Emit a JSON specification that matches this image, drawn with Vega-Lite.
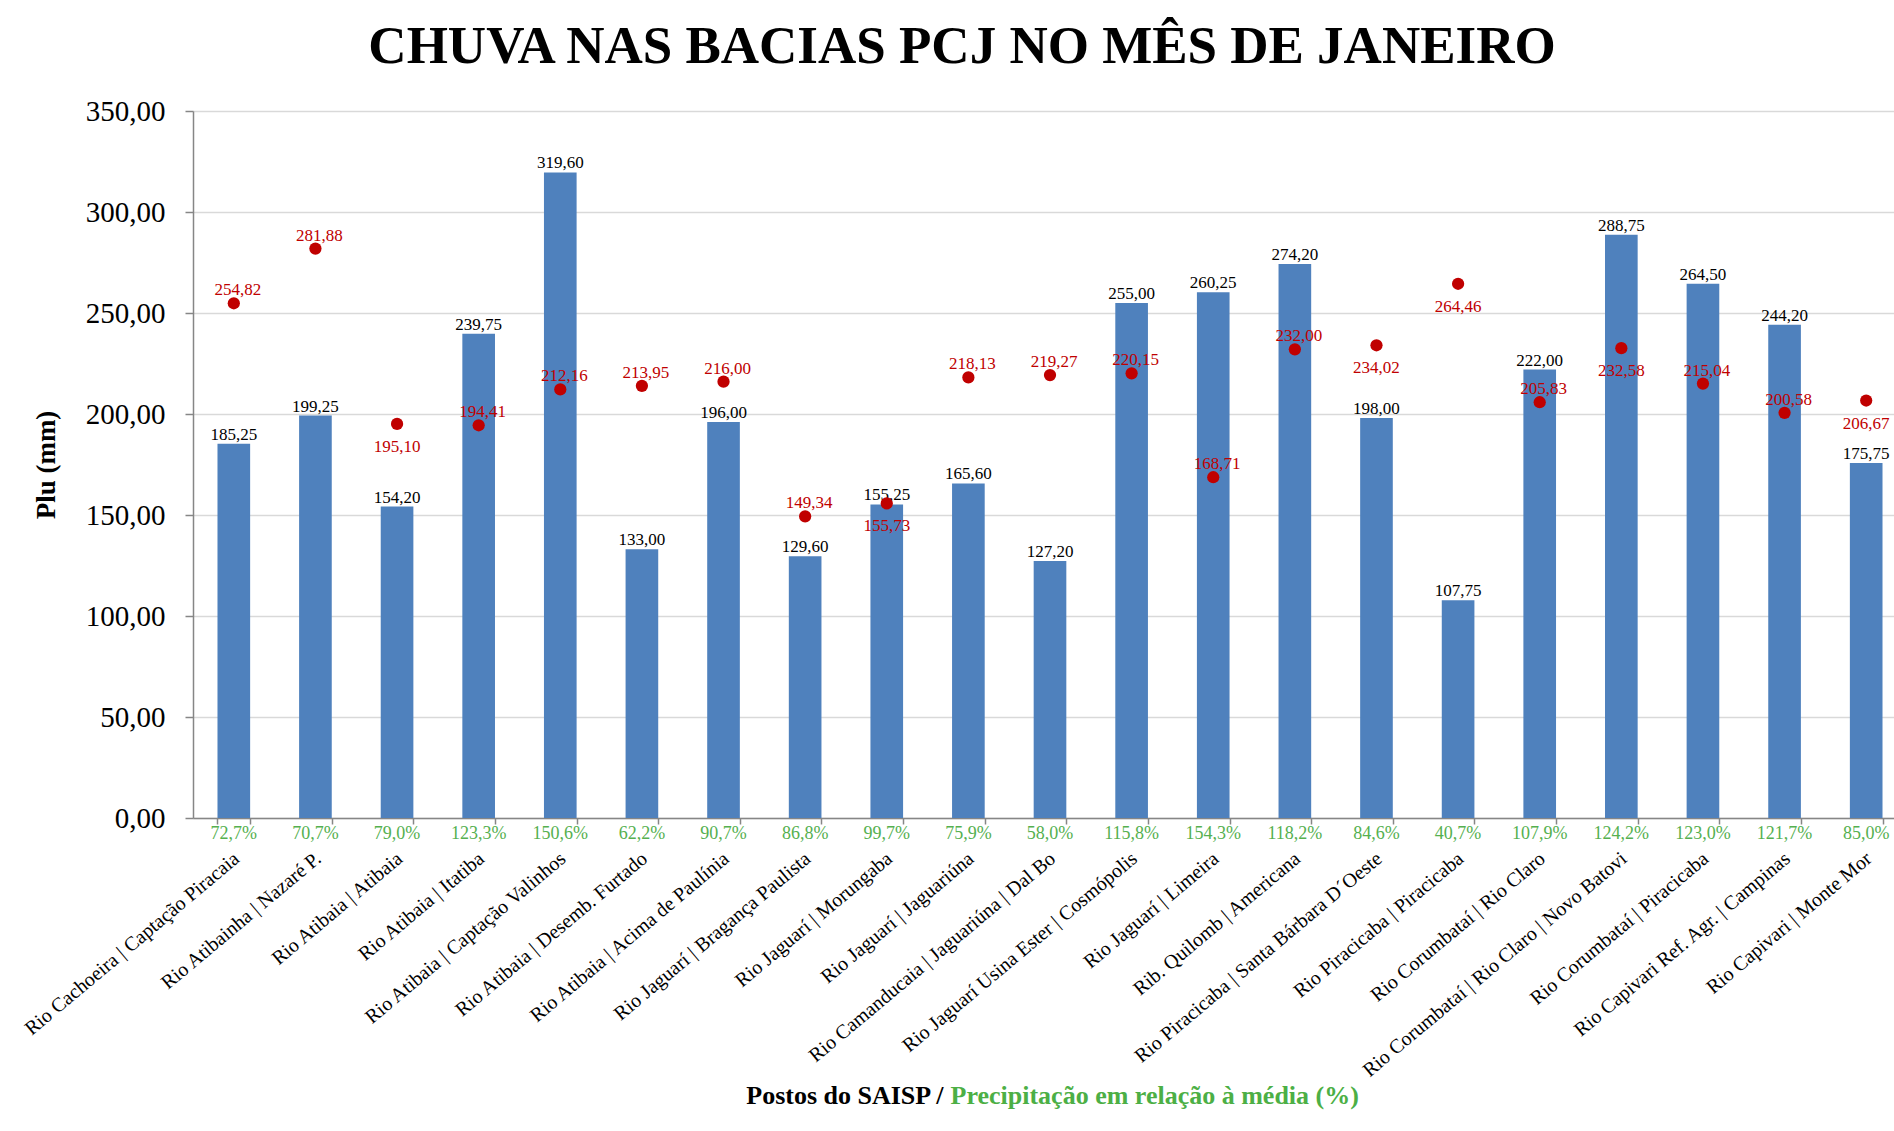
{
  "$schema": "https://vega.github.io/schema/vega-lite/v6.json",
  "autosize": {"type": "none"},
  "width": 1700,
  "height": 707,
  "padding": {"left": 193, "top": 111, "right": 1, "bottom": 313},
  "background": "white",
  "title": {
    "text": "CHUVA NAS BACIAS PCJ NO MÊS DE JANEIRO",
    "font": "Liberation Serif",
    "fontSize": 53,
    "fontWeight": "bold",
    "color": "#000000",
    "anchor": "middle",
    "frame": "group",
    "baseline": "alphabetic",
    "offset": -19,
    "dx": -81
  },
  "data": {
    "values": [
      {"posto": "Rio Cachoeira | Captação Piracaia", "plu": 185.25, "media": 254.82, "pct": 0.727},
      {"posto": "Rio Atibainha | Nazaré P.", "plu": 199.25, "media": 281.88, "pct": 0.707},
      {"posto": "Rio Atibaia | Atibaia", "plu": 154.20, "media": 195.10, "pct": 0.790},
      {"posto": "Rio Atibaia | Itatiba", "plu": 239.75, "media": 194.41, "pct": 1.233},
      {"posto": "Rio Atibaia | Captação Valinhos", "plu": 319.60, "media": 212.16, "pct": 1.506},
      {"posto": "Rio Atibaia | Desemb. Furtado", "plu": 133.00, "media": 213.95, "pct": 0.622},
      {"posto": "Rio Atibaia | Acima de Paulínia", "plu": 196.00, "media": 216.00, "pct": 0.907},
      {"posto": "Rio Jaguarí | Bragança Paulista", "plu": 129.60, "media": 149.34, "pct": 0.868},
      {"posto": "Rio Jaguarí | Morungaba", "plu": 155.25, "media": 155.73, "pct": 0.997},
      {"posto": "Rio Jaguarí | Jaguariúna", "plu": 165.60, "media": 218.13, "pct": 0.759},
      {"posto": "Rio Camanducaia | Jaguariúna | Dal Bo", "plu": 127.20, "media": 219.27, "pct": 0.580},
      {"posto": "Rio Jaguarí Usina Ester | Cosmópolis", "plu": 255.00, "media": 220.15, "pct": 1.158},
      {"posto": "Rio Jaguarí | Limeira", "plu": 260.25, "media": 168.71, "pct": 1.543},
      {"posto": "Rib. Quilomb | Americana", "plu": 274.20, "media": 232.00, "pct": 1.182},
      {"posto": "Rio Piracicaba | Santa Bárbara D´Oeste", "plu": 198.00, "media": 234.02, "pct": 0.846},
      {"posto": "Rio Piracicaba | Piracicaba", "plu": 107.75, "media": 264.46, "pct": 0.407},
      {"posto": "Rio Corumbataí | Rio Claro", "plu": 222.00, "media": 205.83, "pct": 1.079},
      {"posto": "Rio Corumbataí | Rio Claro | Novo Batovi", "plu": 288.75, "media": 232.58, "pct": 1.242},
      {"posto": "Rio Corumbataí | Piracicaba", "plu": 264.50, "media": 215.04, "pct": 1.230},
      {"posto": "Rio Capivari Ref. Agr. | Campinas", "plu": 244.20, "media": 200.58, "pct": 1.217},
      {"posto": "Rio Capivari | Monte Mor", "plu": 175.75, "media": 206.67, "pct": 0.850}
    ]
  },
  "encoding": {
    "x": {
      "field": "posto",
      "type": "nominal",
      "sort": null,
      "scale": {"range": [0, 1714], "paddingInner": 0.6, "paddingOuter": 0.3}
    }
  },
  "layer": [
    {
      "mark": {"type": "bar", "color": "#4F81BD"},
      "encoding": {
        "x": {
          "field": "posto", "type": "nominal", "sort": null,
          "axis": {
            "orient": "bottom",
            "title": "Postos do SAISP /",
            "titleFont": "Liberation Serif",
            "titleFontSize": 26,
            "titleFontWeight": "bold",
            "titleColor": "#000000",
            "titleAlign": "right",
            "titleAnchor": null,
            "titleBaseline": "alphabetic",
            "titleX": 750,
            "titleY": 285,
            "labelFont": "Liberation Serif",
            "labelFontSize": 20,
            "labelColor": "#000000",
            "labelAngle": -40,
            "labelAlign": "right",
            "labelBaseline": "top",
            "labelPadding": 24,
            "labelLimit": 500,
            "labelOverlap": false,
            "labelOffset": -4,
            "tickBand": "extent",
            "tickSize": 6,
            "tickColor": "#868686",
            "tickWidth": 1.5,
            "domainColor": "#868686",
            "domainWidth": 1.5,
            "grid": false
          }
        },
        "y": {
          "field": "plu",
          "type": "quantitative",
          "scale": {"domain": [0, 350], "nice": false},
          "axis": {
            "title": "Plu (mm)",
            "titleFont": "Liberation Serif",
            "titleFontSize": 27,
            "titleFontWeight": "bold",
            "titleColor": "#000000",
            "titleAngle": -90,
            "titleAlign": "center",
            "titleBaseline": "middle",
            "titleX": -147,
            "titleY": 353.5,
            "values": [0, 50, 100, 150, 200, 250, 300, 350],
            "format": ".2f",
            "labelFont": "Liberation Serif",
            "labelFontSize": 29,
            "labelColor": "#000000",
            "labelPadding": 20,
            "tickSize": 8,
            "tickColor": "#868686",
            "tickWidth": 1.5,
            "domainColor": "#868686",
            "domainWidth": 1.5,
            "grid": true,
            "gridColor": "#D9D9D9",
            "gridWidth": 1.5
          }
        }
      }
    },
    {
      "mark": {"type": "text", "font": "Liberation Serif", "fontSize": 17, "color": "#000000", "baseline": "alphabetic", "dy": -4},
      "encoding": {
        "x": {"field": "posto", "type": "nominal", "sort": null, "axis": null},
        "y": {"field": "plu", "type": "quantitative"},
        "text": {"field": "plu", "type": "quantitative", "format": ".2f"}
      }
    },
    {
      "mark": {"type": "point", "shape": "circle", "filled": true, "size": 150, "color": "#C00000", "opacity": 1},
      "encoding": {
        "x": {"field": "posto", "type": "nominal", "sort": null, "axis": null},
        "y": {"field": "media", "type": "quantitative"}
      }
    },
    {
      "transform": [{"filter": {"not": {"field": "posto", "oneOf": ["Rio Atibaia | Atibaia", "Rio Jaguarí | Morungaba", "Rio Piracicaba | Santa Bárbara D´Oeste", "Rio Piracicaba | Piracicaba", "Rio Corumbataí | Rio Claro | Novo Batovi", "Rio Capivari | Monte Mor"]}}}],
      "mark": {"type": "text", "font": "Liberation Serif", "fontSize": 17, "color": "#C00000", "baseline": "alphabetic", "dy": -8, "dx": 4},
      "encoding": {
        "x": {"field": "posto", "type": "nominal", "sort": null, "axis": null},
        "y": {"field": "media", "type": "quantitative"},
        "text": {"field": "media", "type": "quantitative", "format": ".2f"}
      }
    },
    {
      "transform": [{"filter": {"field": "posto", "oneOf": ["Rio Atibaia | Atibaia", "Rio Jaguarí | Morungaba", "Rio Piracicaba | Santa Bárbara D´Oeste", "Rio Piracicaba | Piracicaba", "Rio Corumbataí | Rio Claro | Novo Batovi", "Rio Capivari | Monte Mor"]}}],
      "mark": {"type": "text", "font": "Liberation Serif", "fontSize": 17, "color": "#C00000", "baseline": "alphabetic", "dy": 28},
      "encoding": {
        "x": {"field": "posto", "type": "nominal", "sort": null, "axis": null},
        "y": {"field": "media", "type": "quantitative"},
        "text": {"field": "media", "type": "quantitative", "format": ".2f"}
      }
    },
    {
      "mark": {"type": "text", "font": "Liberation Serif", "fontSize": 18, "color": "#55B04F", "baseline": "alphabetic", "dy": 21},
      "encoding": {
        "x": {
          "field": "posto", "type": "nominal", "sort": null,
          "axis": {
            "orient": "bottom",
            "title": "Precipitação em relação à média (%)",
            "titleFont": "Liberation Serif",
            "titleFontSize": 26,
            "titleFontWeight": "bold",
            "titleColor": "#4CAF45",
            "titleAlign": "left",
            "titleAnchor": null,
            "titleBaseline": "alphabetic",
            "titleX": 757,
            "titleY": 285,
            "labels": false,
            "ticks": false,
            "domain": false,
            "grid": false
          }
        },
        "y": {"datum": 0, "type": "quantitative"},
        "text": {"field": "pct", "type": "quantitative", "format": ".1%"}
      }
    }
  ],
  "resolve": {"axis": {"x": "independent"}},
  "config": {
    "locale": {"number": {"decimal": ",", "thousands": ".", "grouping": [3], "currency": ["R$", ""]}},
    "view": {"stroke": null},
    "font": "Liberation Serif"
  }
}
